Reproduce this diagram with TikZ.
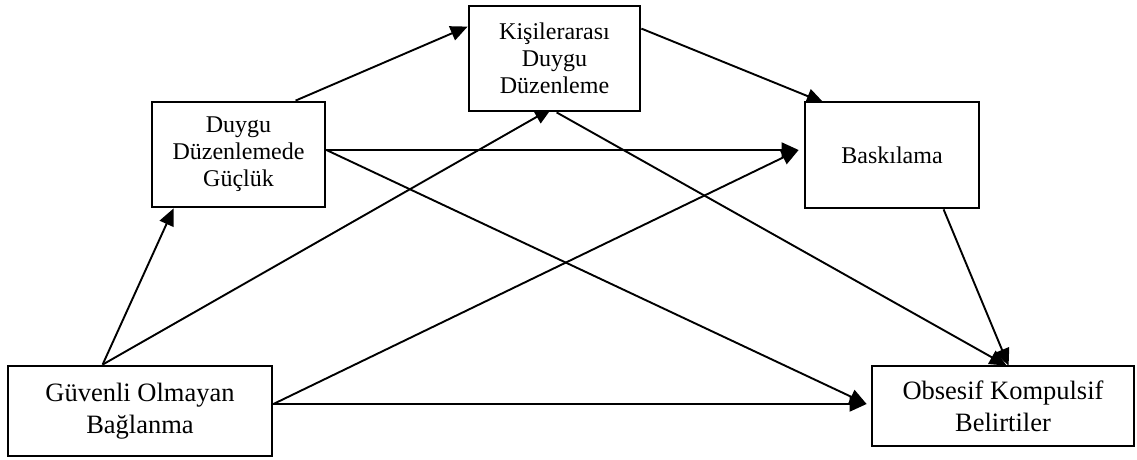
\documentclass[tikz,border=0pt]{standalone}
\usepackage{fontspec}
\setmainfont{Liberation Serif}
\usetikzlibrary{arrows.meta,backgrounds}
\begin{document}
\begin{tikzpicture}[x=1pt,y=-1pt,
  box/.style={draw,line width=2.8pt,fill=white,align=center,inner sep=0pt},
  bigtext/.style={font=\fontsize{26.5}{32}\selectfont},
  smalltext/.style={font=\fontsize{24}{27}\selectfont},
  arr/.style={line width=1.9pt,-{Triangle[length=17pt,width=15pt]}}]
\useasboundingbox (0,0) rectangle (1137,460);
\node[box,bigtext,minimum width=264pt,minimum height=90pt] (G) at (140,411) {Güvenli Olmayan\\Bağlanma};
\node[box,smalltext,minimum width=173pt,minimum height=105pt] (D) at (238.5,154.5) {Duygu\\Düzenlemede\\Güçlük};
\node[box,smalltext,minimum width=171pt,minimum height=105pt] (K) at (554.5,58.5) {Kişilerarası\\Duygu\\Düzenleme};
\node[box,smalltext,minimum width=174pt,minimum height=106pt] (B) at (892,155) {Baskılama};
\node[box,bigtext,minimum width=262pt,minimum height=80pt] (O) at (1003,406) {Obsesif Kompulsif\\Belirtiler};
\begin{pgfonlayer}{background}
\draw[arr] ([xshift=96pt]G.north west) -- ([xshift=23pt]D.south west);
\draw[arr] ([xshift=96pt]G.north west) -- ([xshift=84pt,yshift=4pt]K.south west);
\draw[arr] ([yshift=7pt]G.east) -- ([xshift=-5pt,yshift=5pt]B.west);
\draw[arr] ([yshift=7pt]G.east) -- ([xshift=-4pt,yshift=2pt]O.west);
\draw[arr] ([xshift=145pt]D.north west) -- ([yshift=-22pt]K.north west);
\draw[arr] ([yshift=4.5pt]D.east) -- ([xshift=-5pt,yshift=5pt]B.west);
\draw[arr] ([yshift=4.5pt]D.east) -- ([xshift=-4pt,yshift=2pt]O.west);
\draw[arr] ([yshift=-24pt]K.north east) -- ([xshift=20pt,yshift=-2pt]B.north west);
\draw[arr] ([xshift=89pt]K.south west) -- ([xshift=136pt,yshift=-1pt]O.north west);
\draw[arr] ([xshift=140pt]B.south west) -- ([xshift=138pt,yshift=-1pt]O.north west);
\end{pgfonlayer}
\end{tikzpicture}
\end{document}
